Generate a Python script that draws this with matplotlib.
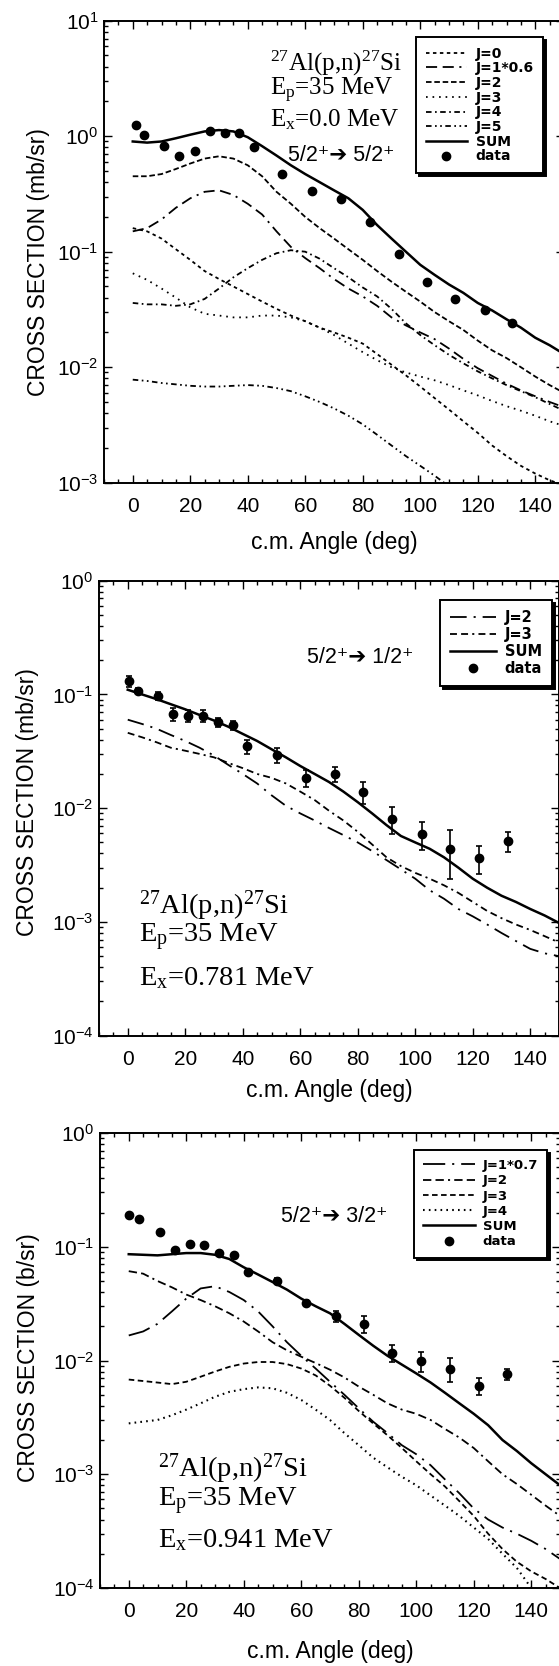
import numpy as np
import matplotlib
matplotlib.use('Agg')
from matplotlib import pyplot as plt
from matplotlib.lines import Line2D
from matplotlib.ticker import LogLocator, MultipleLocator, FuncFormatter, NullFormatter

plt.rcParams['font.family'] = ['Liberation Sans', 'DejaVu Sans']
plt.rcParams['mathtext.fontset'] = 'custom'
plt.rcParams['mathtext.rm'] = 'Liberation Serif'
plt.rcParams['mathtext.it'] = 'Liberation Serif:italic'
plt.rcParams['mathtext.sf'] = 'Liberation Sans'
plt.rcParams['lines.scale_dashes'] = False

###########################################################################
# Data.
###########################################################################
ang = [0, 5, 10, 15, 20, 25, 30, 35, 40, 45, 50, 55, 60, 65, 70, 75, 80, 85,
       90, 95, 100, 105, 110, 115, 120, 125, 130, 135, 140, 145, 150]

# Panel 1: Ex = 0.0 MeV, 5/2+ -> 5/2+
p1_sum = [0.90, 0.88, 0.90, 0.96, 1.03, 1.10, 1.13, 1.10, 0.98, 0.82, 0.68, 0.56, 0.47,
          0.40, 0.34, 0.29, 0.23, 0.17, 0.13, 0.10, 0.077, 0.063, 0.052, 0.044, 0.036,
          0.031, 0.026, 0.022, 0.018, 0.0155, 0.013]
p1_j0 = [0.16, 0.15, 0.13, 0.105, 0.085, 0.068, 0.058, 0.050, 0.043, 0.037, 0.032, 0.028,
         0.025, 0.022, 0.020, 0.018, 0.016, 0.013, 0.0105, 0.0085, 0.0068, 0.0054, 0.0043,
         0.0034, 0.0027, 0.0021, 0.0017, 0.0014, 0.0012, 0.00105, 0.00095]
p1_j1 = [0.15, 0.16, 0.19, 0.24, 0.29, 0.33, 0.34, 0.31, 0.26, 0.21, 0.15, 0.11, 0.088,
         0.072, 0.058, 0.048, 0.041, 0.034, 0.027, 0.023, 0.020, 0.0175, 0.0145, 0.0118,
         0.0098, 0.0084, 0.0072, 0.0063, 0.0056, 0.0050, 0.0045]
p1_j2 = [0.45, 0.45, 0.47, 0.52, 0.58, 0.64, 0.67, 0.64, 0.56, 0.45, 0.33, 0.26, 0.20,
         0.16, 0.13, 0.105, 0.085, 0.068, 0.055, 0.045, 0.037, 0.030, 0.025, 0.021, 0.017,
         0.014, 0.012, 0.0100, 0.0083, 0.0070, 0.0060]
p1_j3 = [0.065, 0.057, 0.048, 0.040, 0.033, 0.029, 0.028, 0.027, 0.027, 0.028, 0.028,
         0.027, 0.025, 0.022, 0.019, 0.016, 0.0135, 0.0115, 0.0100, 0.0090, 0.0083,
         0.0077, 0.0070, 0.0063, 0.0057, 0.0051, 0.0046, 0.0042, 0.0038, 0.0034, 0.0031]
p1_j4 = [0.036, 0.035, 0.035, 0.034, 0.035, 0.039, 0.048, 0.060, 0.072, 0.085, 0.097,
         0.103, 0.100, 0.087, 0.072, 0.060, 0.049, 0.041, 0.032, 0.024, 0.019, 0.0155,
         0.0128, 0.0108, 0.0092, 0.0080, 0.0070, 0.0062, 0.0055, 0.0048, 0.0042]
p1_j5 = [0.0078, 0.0076, 0.0073, 0.0071, 0.0069, 0.0068, 0.0068, 0.0069, 0.0070, 0.0069,
         0.0066, 0.0062, 0.0056, 0.0050, 0.0044, 0.0038, 0.0032, 0.0026, 0.0021, 0.0017,
         0.00140, 0.00115, 0.00093, 0.00075, 0.00060, 0.00048, 0.00038, 0.00030,
         0.00024, 0.00019, 0.00015]
p1_dang = [1, 4, 11, 16, 21.5, 27, 32, 37, 42, 52, 62.5, 72.5, 82.5, 92.5, 102.5, 112,
           122.5, 132]
p1_data = [1.25, 1.03, 0.82, 0.67, 0.74, 1.10, 1.07, 1.07, 0.80, 0.47, 0.335, 0.284,
           0.179, 0.096, 0.055, 0.039, 0.031, 0.024]

# Panel 2: Ex = 0.781 MeV, 5/2+ -> 1/2+
p2_sum = [0.11, 0.100, 0.091, 0.082, 0.074, 0.066, 0.059, 0.052, 0.045, 0.039, 0.033,
          0.028, 0.0235, 0.020, 0.017, 0.0140, 0.0113, 0.0090, 0.0071, 0.0057, 0.0050,
          0.0044, 0.0037, 0.0030, 0.0024, 0.0020, 0.0017, 0.0015, 0.0013, 0.00114, 0.00098]
p2_j2 = [0.060, 0.055, 0.050, 0.044, 0.039, 0.034, 0.029, 0.024, 0.020, 0.0165, 0.0130,
         0.0105, 0.0090, 0.0078, 0.0067, 0.0058, 0.0050, 0.0042, 0.0035, 0.0029, 0.0024,
         0.0019, 0.0016, 0.0013, 0.00112, 0.00095, 0.00080, 0.00068, 0.00058, 0.00053,
         0.00050]
p2_j3 = [0.046, 0.042, 0.038, 0.034, 0.032, 0.030, 0.028, 0.025, 0.0225, 0.020, 0.0185,
         0.0165, 0.0140, 0.0118, 0.0095, 0.0078, 0.0062, 0.0048, 0.0037, 0.0031, 0.0027,
         0.0024, 0.0021, 0.0018, 0.0015, 0.00125, 0.00108, 0.00095, 0.00085, 0.00075,
         0.00066]
p2_dang = [0.5, 3.7, 10.6, 15.8, 21, 26, 31.3, 36.5, 41.6, 51.8, 61.9, 72, 81.9, 92,
           102.3, 112.2, 122.3, 132.2]
p2_data = [0.131, 0.108, 0.097, 0.0667, 0.065, 0.065, 0.0568, 0.054, 0.0349, 0.0294,
           0.0186, 0.020, 0.0139, 0.0081, 0.0059, 0.0044, 0.00365, 0.00516]
p2_err = [0.014, 0.006, 0.008, 0.0088, 0.008, 0.008, 0.0055, 0.005, 0.0048, 0.0043,
          0.0032, 0.003, 0.003, 0.0022, 0.0016, 0.0020, 0.0010, 0.0010]

# Panel 3: Ex = 0.941 MeV, 5/2+ -> 3/2+
p3_sum = [0.086, 0.085, 0.084, 0.086, 0.088, 0.088, 0.085, 0.078, 0.066, 0.057, 0.049,
          0.042, 0.035, 0.030, 0.026, 0.021, 0.0168, 0.0135, 0.0110, 0.0092, 0.0077,
          0.0064, 0.0052, 0.0042, 0.0034, 0.0027, 0.0020, 0.0016, 0.00125, 0.00100, 0.00080]
p3_j1 = [0.0166, 0.018, 0.021, 0.027, 0.035, 0.043, 0.045, 0.040, 0.034, 0.027, 0.020,
         0.0145, 0.0110, 0.0085, 0.0065, 0.0050, 0.0038, 0.0029, 0.0023, 0.0018, 0.0015,
         0.0012, 0.00090, 0.00068, 0.00050, 0.00040, 0.00034, 0.00030, 0.00026, 0.00022,
         0.00018]
p3_j2 = [0.061, 0.058, 0.050, 0.044, 0.038, 0.034, 0.030, 0.026, 0.022, 0.018, 0.0145,
         0.0123, 0.0108, 0.0095, 0.0083, 0.0071, 0.0059, 0.0050, 0.0042, 0.0037, 0.0034,
         0.0030, 0.0025, 0.0021, 0.0017, 0.0013, 0.0010, 0.00082, 0.00066, 0.00053, 0.00043]
p3_j3 = [0.0068, 0.0066, 0.0064, 0.0062, 0.0065, 0.0072, 0.0080, 0.0088, 0.0094, 0.0097,
         0.0097, 0.0093, 0.0085, 0.0074, 0.0060, 0.0047, 0.0036, 0.0028, 0.0022, 0.0017,
         0.0013, 0.0010, 0.00078, 0.00058, 0.00043, 0.00030, 0.00022, 0.00017, 0.00014,
         0.00012, 0.00010]
p3_j4 = [0.0028, 0.0029, 0.0030, 0.0033, 0.0037, 0.0042, 0.0048, 0.0053, 0.0056, 0.0058,
         0.0057, 0.0052, 0.0045, 0.0037, 0.0030, 0.0023, 0.0018, 0.0014, 0.00115, 0.00095,
         0.00080, 0.00065, 0.00053, 0.00043, 0.00034, 0.00027, 0.00020, 0.00015, 0.00010,
         0.00007, 0.00005]
p3_dang = [0.2, 3.7, 10.8, 16, 21.2, 26.2, 31.4, 36.6, 41.6, 51.7, 61.8, 72, 81.9, 91.7,
           101.8, 111.7, 121.9, 131.5]
p3_data = [0.191, 0.175, 0.134, 0.093, 0.106, 0.103, 0.088, 0.084, 0.060, 0.050, 0.0319,
           0.0244, 0.0211, 0.0117, 0.0099, 0.0085, 0.0060, 0.0076]
p3_err = [0.005, 0.005, 0.004, 0.004, 0.004, 0.004, 0.004, 0.004, 0.003, 0.003, 0.002,
          0.0026, 0.0035, 0.002, 0.002, 0.002, 0.001, 0.0009]

###########################################################################
# Line styles.
###########################################################################
st_j0 = (0, (2.5, 2.5))
st_j1a = (0, (8, 4, 8, 4, 1.5, 4))
st_j2a = (0, (4, 2))
st_j3a = (0, (1.2, 3.5))
st_j4a = (0, (4, 2.5, 1.2, 2.5))
st_j5a = (0, (4, 2.5, 1.2, 2.5, 1.2, 2.5))

st_p2j2 = (0, (12, 5, 1.5, 5))
st_p2j3 = (0, (5, 3, 5, 3, 1.5, 3))

st_p3j1 = (0, (16, 5, 1.5, 5))
st_p3j2 = (0, (6, 3, 6, 3, 1.5, 3))
st_p3j3 = (0, (4, 2.5))
st_p3j4 = (0, (1.2, 3))

serif = ['Liberation Serif', 'DejaVu Serif']


def log_label(v, pos):
  return r'$\mathsf{10^{%d}}$' % int(round(np.log10(v)))


def setup(ax, ylo, yhi):
  ax.set_yscale('log')
  ax.set_xlim(-10, 150)
  ax.set_ylim(ylo, yhi)
  ax.xaxis.set_major_locator(MultipleLocator(20))
  ax.xaxis.set_minor_locator(MultipleLocator(5))
  ax.yaxis.set_major_locator(LogLocator(base=10))
  ax.yaxis.set_minor_locator(LogLocator(base=10, subs=np.arange(2, 10)))
  ax.yaxis.set_major_formatter(FuncFormatter(log_label))
  ax.yaxis.set_minor_formatter(NullFormatter())
  ax.tick_params(which='both', direction='in', top=True, right=True, width=1.0)
  ax.tick_params(which='major', length=6)
  ax.tick_params(which='minor', length=3)
  ax.tick_params(axis='x', which='major', labelsize=15, pad=10)
  ax.tick_params(axis='y', which='major', labelsize=15, pad=4)
  for s in ax.spines.values():
    s.set_linewidth(1.4)


def legend(ax, handles, x, y, size, hl, ls):
  lg = ax.legend(handles=handles, loc='upper left', bbox_to_anchor=(x, y),
                 prop={'family': 'DejaVu Sans', 'size': size, 'weight': 'bold'},
                 handlelength=hl, labelspacing=ls, handletextpad=0.6,
                 borderpad=0.7, borderaxespad=0, fancybox=False, framealpha=1,
                 edgecolor='black', shadow={'color': 'black', 'alpha': 1})
  lg.get_frame().set_linewidth(1.4)
  return lg


def arrow_text(a, b):
  # plain text (no mathtext) so that missing glyphs fall back to DejaVu Sans
  return a + '\u207a\u2794 ' + b + '\u207a'


fig = plt.figure(figsize=(5.59, 16.66), dpi=100)

###########################################################################
# Panel 1.
###########################################################################
ax1 = fig.add_axes([104 / 559, (1666 - 482.7) / 1666, 460 / 559, 462 / 1666])
setup(ax1, 1e-3, 1e1)
h = []
h += ax1.plot(ang, p1_j0, color='k', lw=1.3, ls=st_j0, label='J=0')
h += ax1.plot(ang, p1_j1, color='k', lw=1.3, ls=st_j1a, label='J=1*0.6')
h += ax1.plot(ang, p1_j2, color='k', lw=1.3, ls=st_j2a, label='J=2')
h += ax1.plot(ang, p1_j3, color='k', lw=1.3, ls=st_j3a, label='J=3')
h += ax1.plot(ang, p1_j4, color='k', lw=1.3, ls=st_j4a, label='J=4')
h += ax1.plot(ang, p1_j5, color='k', lw=1.3, ls=st_j5a, label='J=5')
h += ax1.plot(ang, p1_sum, color='k', lw=1.8, ls='-', label='SUM')
h += ax1.plot(p1_dang, p1_data, 'o', color='k', ms=6, label='data')
legend(ax1, h, 0.678, 0.965, 10, 3.0, 0.05)
ax1.set_xlabel('c.m. Angle (deg)', fontsize=16.5)
ax1.set_ylabel('CROSS SECTION (mb/sr)', fontsize=16.5)
ax1.xaxis.set_label_coords(0.5, -0.1305)
ax1.yaxis.set_label_coords(-0.143, 0.478)
ax1.xaxis.label.set_va('center')
ax1.yaxis.label.set_va('center')
ax1.text(0.361, 0.893, r'$^{27}$Al(p,n)$^{27}$Si', transform=ax1.transAxes,
         family=serif, fontsize=18, va='baseline')
ax1.text(0.361, 0.838, r'E$_{\mathrm{p}}$=35 MeV', transform=ax1.transAxes,
         family=serif, fontsize=18, va='baseline')
ax1.text(0.361, 0.772, r'E$_{\mathrm{x}}$=0.0 MeV', transform=ax1.transAxes,
         family=serif, fontsize=18, va='baseline')
ax1.text(0.400, 0.6965, arrow_text('5/2', '5/2'), transform=ax1.transAxes,
         fontsize=15.5, va='baseline')

###########################################################################
# Panel 2.
###########################################################################
ax2 = fig.add_axes([99 / 559, (1666 - 1035.7) / 1666, 460 / 559, 455 / 1666])
setup(ax2, 1e-4, 1e0)
h = []
h += ax2.plot(ang, p2_j2, color='k', lw=1.3, ls=st_p2j2, label='J=2')
h += ax2.plot(ang, p2_j3, color='k', lw=1.3, ls=st_p2j3, label='J=3')
h += ax2.plot(ang, p2_sum, color='k', lw=1.8, ls='-', label='SUM')
ax2.errorbar(p2_dang, p2_data, yerr=p2_err, fmt='o', color='k', ms=6,
             elinewidth=1.2, capsize=2.5, capthick=1.2)
h.append(Line2D([], [], marker='o', ls='none', color='k', ms=6, label='data'))
legend(ax2, h, 0.741, 0.958, 10.5, 3.15, 0.14)
ax2.set_xlabel('c.m. Angle (deg)', fontsize=16.5)
ax2.set_ylabel('CROSS SECTION (mb/sr)', fontsize=16.5)
ax2.xaxis.set_label_coords(0.5, -0.121)
ax2.yaxis.set_label_coords(-0.155, 0.514)
ax2.xaxis.label.set_va('center')
ax2.yaxis.label.set_va('center')
ax2.text(0.087, 0.2675, r'$^{27}$Al(p,n)$^{27}$Si', transform=ax2.transAxes,
         family=serif, fontsize=20.5, va='baseline')
ax2.text(0.087, 0.206, r'E$_{\mathrm{p}}$=35 MeV', transform=ax2.transAxes,
         family=serif, fontsize=20.5, va='baseline')
ax2.text(0.087, 0.111, r'E$_{\mathrm{x}}$=0.781 MeV', transform=ax2.transAxes,
         family=serif, fontsize=20.5, va='baseline')
ax2.text(0.452, 0.819, arrow_text('5/2', '1/2'), transform=ax2.transAxes,
         fontsize=15.5, va='baseline')

###########################################################################
# Panel 3.
###########################################################################
ax3 = fig.add_axes([100 / 559, (1666 - 1588) / 1666, 460 / 559, 455 / 1666])
setup(ax3, 1e-4, 1e0)
h = []
h += ax3.plot(ang, p3_j1, color='k', lw=1.3, ls=st_p3j1, label='J=1*0.7')
h += ax3.plot(ang, p3_j2, color='k', lw=1.3, ls=st_p3j2, label='J=2')
h += ax3.plot(ang, p3_j3, color='k', lw=1.3, ls=st_p3j3, label='J=3')
h += ax3.plot(ang, p3_j4, color='k', lw=1.5, ls=st_p3j4, label='J=4')
h += ax3.plot(ang, p3_sum, color='k', lw=1.8, ls='-', label='SUM')
ax3.errorbar(p3_dang, p3_data, yerr=p3_err, fmt='o', color='k', ms=6,
             elinewidth=1.2, capsize=2.5, capthick=1.2)
h.append(Line2D([], [], marker='o', ls='none', color='k', ms=6, label='data'))
legend(ax3, h, 0.6826, 0.963, 9.5, 3.9, 0.17)
ax3.set_xlabel('c.m. Angle (deg)', fontsize=16.5)
ax3.set_ylabel('CROSS SECTION (b/sr)', fontsize=16.5)
ax3.xaxis.set_label_coords(0.5, -0.1385)
ax3.yaxis.set_label_coords(-0.155, 0.507)
ax3.xaxis.label.set_va('center')
ax3.yaxis.label.set_va('center')
ax3.text(0.127, 0.2445, r'$^{27}$Al(p,n)$^{27}$Si', transform=ax3.transAxes,
         family=serif, fontsize=20.5, va='baseline')
ax3.text(0.127, 0.181, r'E$_{\mathrm{p}}$=35 MeV', transform=ax3.transAxes,
         family=serif, fontsize=20.5, va='baseline')
ax3.text(0.127, 0.0906, r'E$_{\mathrm{x}}$=0.941 MeV', transform=ax3.transAxes,
         family=serif, fontsize=20.5, va='baseline')
ax3.text(0.393, 0.804, arrow_text('5/2', '3/2'), transform=ax3.transAxes,
         fontsize=15.5, va='baseline')

fig.savefig('out.png', dpi=100)
